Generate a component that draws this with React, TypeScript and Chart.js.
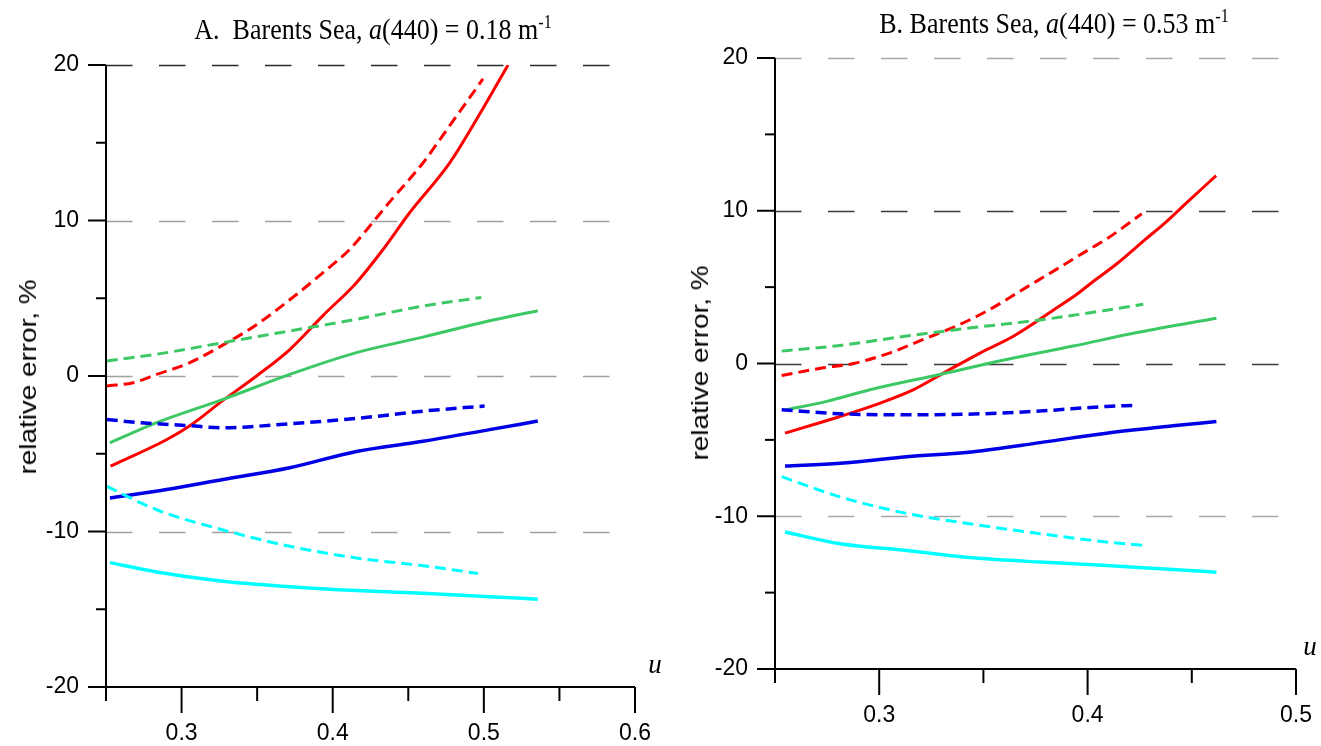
import React, { useEffect, useRef } from "react";
import { Chart, registerables } from "chart.js";
Chart.register(...registerables);

// ---------- Panel A: Barents Sea, a(440) = 0.18 ----------
const A_U_RED = [0.253, 0.29, 0.3055, 0.327, 0.3496, 0.3716, 0.3937, 0.4157, 0.433, 0.4509, 0.4774, 0.4994, 0.516];
const A_RED = [-5.8, -4.1, -3.2, -1.6, 0.0, 1.7, 3.9, 6.0, 8.1, 10.5, 13.7, 17.2, 20.0];
const A_U_RED_D = [0.2505, 0.268, 0.2835, 0.3055, 0.3275, 0.3496, 0.3716, 0.3936, 0.4113, 0.4267, 0.4377, 0.4597, 0.4774, 0.4994];
const A_RED_D = [-0.64, -0.43, 0.1, 0.86, 2.0, 3.3, 4.9, 6.65, 8.15, 9.9, 11.2, 13.7, 16.1, 19.1];
const A_U_GREEN = [0.2526, 0.2835, 0.3275, 0.3716, 0.4157, 0.4597, 0.5038, 0.5357];
const A_GREEN = [-4.3, -3.0, -1.5, 0.1, 1.5, 2.5, 3.55, 4.2];
const A_U_GREEN_D = [0.2505, 0.2835, 0.3275, 0.3716, 0.4157, 0.4597, 0.4983];
const A_GREEN_D = [0.97, 1.4, 2.15, 2.9, 3.65, 4.5, 5.05];
const A_U_BLUE = [0.2526, 0.29, 0.3275, 0.3716, 0.4157, 0.4597, 0.5038, 0.5357];
const A_BLUE = [-7.85, -7.3, -6.65, -5.9, -4.85, -4.2, -3.45, -2.9];
const A_U_BLUE_D = [0.2505, 0.2725, 0.3055, 0.3275, 0.3716, 0.4157, 0.4597, 0.5005];
const A_BLUE_D = [-2.8, -3.0, -3.2, -3.33, -3.07, -2.73, -2.26, -1.93];
const A_U_CYAN = [0.2526, 0.2835, 0.3275, 0.3716, 0.4157, 0.4597, 0.5038, 0.5357];
const A_CYAN = [-12.0, -12.6, -13.2, -13.55, -13.8, -13.97, -14.2, -14.35];
const A_U_CYAN_D = [0.2505, 0.2835, 0.3275, 0.3716, 0.4157, 0.4597, 0.4961];
const A_CYAN_D = [-7.1, -8.6, -9.9, -10.95, -11.7, -12.2, -12.7];

// ---------- Panel B: Barents Sea, a(440) = 0.53 ----------
const B_U_RED = [0.2548, 0.2812, 0.3005, 0.3165, 0.3325, 0.3486, 0.3646, 0.3854, 0.3945, 0.403, 0.4137, 0.428, 0.4376, 0.4481, 0.4617];
const B_RED = [-4.56, -3.47, -2.59, -1.71, -0.5, 0.7, 1.8, 3.66, 4.5, 5.4, 6.5, 8.16, 9.26, 10.6, 12.3];
const B_U_RED_D = [0.2532, 0.2732, 0.2876, 0.3052, 0.3212, 0.3372, 0.3532, 0.3692, 0.3852, 0.4011, 0.4092, 0.426];
const B_RED_D = [-0.79, -0.28, 0.0, 0.7, 1.58, 2.46, 3.55, 4.87, 6.18, 7.5, 8.16, 9.8];
const B_U_GREEN = [0.2556, 0.2748, 0.2971, 0.3291, 0.3611, 0.393, 0.425, 0.4618];
const B_GREEN = [-3.03, -2.48, -1.67, -0.72, 0.26, 1.14, 2.06, 2.96];
const B_U_GREEN_D = [0.2532, 0.2812, 0.3132, 0.3452, 0.3771, 0.4091, 0.4267];
const B_GREEN_D = [0.81, 1.18, 1.8, 2.35, 2.85, 3.49, 3.88];
const B_U_BLUE = [0.2548, 0.2812, 0.3132, 0.3452, 0.3771, 0.4091, 0.441, 0.4618];
const B_BLUE = [-6.71, -6.53, -6.1, -5.77, -5.18, -4.56, -4.08, -3.8];
const B_U_BLUE_D = [0.2532, 0.2812, 0.3132, 0.3452, 0.3771, 0.4091, 0.4228];
const B_BLUE_D = [-3.03, -3.29, -3.36, -3.31, -3.11, -2.81, -2.74];
const B_U_CYAN = [0.2548, 0.2812, 0.3132, 0.3452, 0.3771, 0.4091, 0.441, 0.4618];
const B_CYAN = [-11.03, -11.8, -12.24, -12.72, -13.0, -13.22, -13.49, -13.66];
const B_U_CYAN_D = [0.2532, 0.2812, 0.3132, 0.3452, 0.3771, 0.4091, 0.4267];
const B_CYAN_D = [-7.41, -8.73, -9.82, -10.53, -11.14, -11.69, -11.9];

// ---------- axes ----------
const Y_MIN = -20;
const Y_MAX = 20;
const Y_STEP = 5;
const GRID_VALUES = [20, 10, 0, -10];
const A_GRID_COLORS = ["#2a2a2a", "#a0a0a0", "#a0a0a0", "#a0a0a0"];
const B_GRID_COLORS = ["#a8a8a8", "#3a3a3a", "#3a3a3a", "#a8a8a8"];
const A_X_MAX = 0.6;
const B_X_MAX = 0.5;
const X_MIN = 0.25;
const X_STEP = 0.05;

const RED = "#ff0000";
const GREEN = "#3cc864";
const BLUE = "#0000e6";
const CYAN = "#00ffff";
const DASH = [11, 6];

function series(u: number[], v: number[], color: string, dashed: boolean, width = 3) {
  return {
    data: u.map((x, i) => ({ x, y: v[i] })),
    borderColor: color,
    backgroundColor: color,
    borderWidth: width,
    borderDash: dashed ? DASH : [],
    pointRadius: 0,
    fill: false,
    showLine: true,
    cubicInterpolationMode: "monotone" as const,
  };
}

const isMajor = (v: number, step: number) => Math.abs(v / step - Math.round(v / step)) < 1e-6;

function decorPlugin(gridColors: string[]) {
  return {
    id: "decor",
    beforeDatasetsDraw(chart: any) {
      const { ctx, chartArea, scales } = chart;
      const y = scales.y;
      ctx.save();
      ctx.lineWidth = 1.5;
      ctx.setLineDash([26.5, 26.5]);
      GRID_VALUES.forEach((v, i) => {
        const py = Math.round(y.getPixelForValue(v)) + 0.5;
        ctx.strokeStyle = gridColors[i];
        ctx.beginPath();
        ctx.moveTo(chartArea.left, py);
        ctx.lineTo(chartArea.right, py);
        ctx.stroke();
      });
      ctx.restore();
    },
    afterDraw(chart: any) {
      const { ctx, chartArea, scales } = chart;
      const x = scales.x;
      const y = scales.y;
      ctx.save();
      ctx.strokeStyle = "#000";
      ctx.lineWidth = 2;
      ctx.setLineDash([]);
      const L = chartArea.left;
      const B = chartArea.bottom;
      ctx.beginPath();
      ctx.moveTo(L, chartArea.top);
      ctx.lineTo(L, B);
      ctx.lineTo(chartArea.right, B);
      ctx.stroke();
      y.ticks.forEach((t: any) => {
        const py = y.getPixelForValue(t.value);
        const len = isMajor(t.value, 10) ? 18 : 10;
        ctx.beginPath();
        ctx.moveTo(L - len, py);
        ctx.lineTo(L, py);
        ctx.stroke();
      });
      x.ticks.forEach((t: any) => {
        const px = x.getPixelForValue(t.value);
        const len = isMajor(t.value, 0.1) ? 26 : 14;
        ctx.beginPath();
        ctx.moveTo(px, B);
        ctx.lineTo(px, B + len);
        ctx.stroke();
      });
      ctx.restore();
    },
  };
}

function makeConfig(datasets: any[], xMax: number, yWidth: number, xHeight: number, top: number, gridColors: string[]) {
  const tickFont = { family: '"Liberation Sans", Arial, sans-serif', size: 23 };
  return {
    type: "scatter" as const,
    data: { datasets },
    options: {
      responsive: false,
      animation: false as const,
      events: [],
      layout: { padding: { left: 0, right: 25, top, bottom: 0 } },
      plugins: { legend: { display: false }, tooltip: { enabled: false }, title: { display: false } },
      scales: {
        x: {
          type: "linear" as const,
          min: X_MIN,
          max: xMax,
          grid: { display: false, drawTicks: false },
          border: { display: false },
          afterFit: (s: any) => {
            s.height = xHeight;
            s.paddingLeft = 0;
            s.paddingRight = 0;
          },
          ticks: {
            stepSize: X_STEP,
            autoSkip: false,
            maxRotation: 0,
            padding: 33,
            color: "#000",
            font: tickFont,
            callback: (v: number) => (isMajor(v, 0.1) && v > X_MIN + 0.01 ? v.toFixed(1) : ""),
          },
        },
        y: {
          type: "linear" as const,
          min: Y_MIN,
          max: Y_MAX,
          grid: { display: false, drawTicks: false },
          border: { display: false },
          afterFit: (s: any) => {
            s.width = yWidth;
            s.paddingTop = 0;
            s.paddingBottom = 0;
          },
          ticks: {
            stepSize: Y_STEP,
            autoSkip: false,
            padding: 27,
            color: "#000",
            font: tickFont,
            callback: (v: number) => (isMajor(v, 10) ? String(v) : ""),
          },
        },
      },
    },
    plugins: [decorPlugin(gridColors)],
  };
}

function Panel(props: { datasets: any[]; xMax: number; yWidth: number; xHeight: number; top: number; gridColors: string[]; width: number; height: number }) {
  const ref = useRef<HTMLCanvasElement | null>(null);
  useEffect(() => {
    if (!ref.current) return;
    const chart = new Chart(ref.current, makeConfig(props.datasets, props.xMax, props.yWidth, props.xHeight, props.top, props.gridColors) as any);
    return () => chart.destroy();
  }, []);
  return <canvas ref={ref} width={props.width} height={props.height} style={{ display: "block" }} />;
}

const serif = '"Liberation Serif", "Times New Roman", serif';
const sans = '"Liberation Sans", Arial, sans-serif';

function Title(props: { x: number; y: number; letter: string; value: string }) {
  return (
    <div
      style={{
        position: "absolute",
        left: props.x,
        top: props.y,
        transform: "translate(-50%, -50%) scaleY(1.12)",
        fontFamily: serif,
        fontSize: 26,
        lineHeight: "30px",
        whiteSpace: "pre",
        color: "#000",
      }}
    >
      {props.letter} Barents Sea, <i>a</i>(440) = {props.value} m
      <sup style={{ fontSize: "0.62em", lineHeight: 0, verticalAlign: "0.6em" }}>-1</sup>
    </div>
  );
}

function YTitle(props: { x: number; y: number }) {
  return (
    <div
      style={{
        position: "absolute",
        left: props.x,
        top: props.y,
        transform: "translate(-50%, -50%) rotate(-90deg) scaleX(1.16)",
        fontFamily: sans,
        fontSize: 24,
        lineHeight: "28px",
        whiteSpace: "nowrap",
        color: "#000",
      }}
    >
      relative error, %
    </div>
  );
}

function ULabel(props: { x: number; y: number }) {
  return (
    <div
      style={{
        position: "absolute",
        left: props.x,
        top: props.y,
        transform: "translate(-50%, -50%)",
        fontFamily: serif,
        fontStyle: "italic",
        fontSize: 27,
        lineHeight: "28px",
        color: "#000",
      }}
    >
      u
    </div>
  );
}

export default function App() {
  const dsA = [
    series(A_U_CYAN, A_CYAN, CYAN, false, 3.5),
    series(A_U_CYAN_D, A_CYAN_D, CYAN, true),
    series(A_U_BLUE, A_BLUE, BLUE, false, 3.5),
    series(A_U_BLUE_D, A_BLUE_D, BLUE, true, 3.5),
    series(A_U_GREEN, A_GREEN, GREEN, false),
    series(A_U_GREEN_D, A_GREEN_D, GREEN, true),
    series(A_U_RED, A_RED, RED, false),
    series(A_U_RED_D, A_RED_D, RED, true),
  ];
  const dsB = [
    series(B_U_CYAN, B_CYAN, CYAN, false, 3.5),
    series(B_U_CYAN_D, B_CYAN_D, CYAN, true),
    series(B_U_BLUE, B_BLUE, BLUE, false, 3.5),
    series(B_U_BLUE_D, B_BLUE_D, BLUE, true, 3.5),
    series(B_U_GREEN, B_GREEN, GREEN, false),
    series(B_U_GREEN_D, B_GREEN_D, GREEN, true),
    series(B_U_RED, B_RED, RED, false),
    series(B_U_RED_D, B_RED_D, RED, true),
  ];
  return (
    <div style={{ position: "fixed", left: 0, top: 0, width: 1321, height: 746, background: "#fff", overflow: "hidden" }}>
      <div style={{ position: "absolute", left: 0, top: 0 }}>
        <Panel datasets={dsA} xMax={A_X_MAX} yWidth={106} xHeight={59} top={65} gridColors={A_GRID_COLORS} width={660} height={746} />
      </div>
      <div style={{ position: "absolute", left: 660, top: 0 }}>
        <Panel datasets={dsB} xMax={B_X_MAX} yWidth={115} xHeight={77} top={58} gridColors={B_GRID_COLORS} width={661} height={746} />
      </div>
      <Title x={373} y={30} letter={"A. "} value="0.18" />
      <Title x={1054} y={24} letter={"B."} value="0.53" />
      <YTitle x={28} y={377} />
      <YTitle x={700} y={363} />
      <ULabel x={655} y={664} />
      <ULabel x={1310} y={646} />
    </div>
  );
}
